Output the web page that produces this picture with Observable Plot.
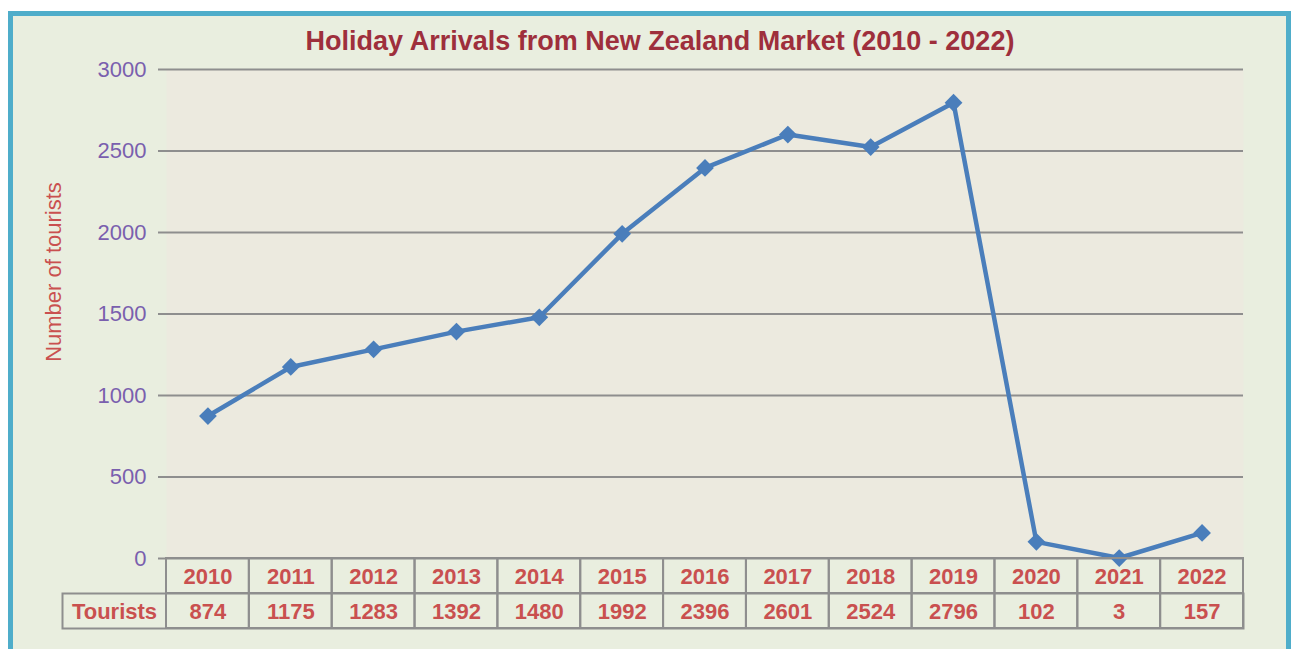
<!DOCTYPE html>
<html>
<head>
<meta charset="utf-8">
<script src="https://cdn.jsdelivr.net/npm/d3@7"></script>
<script src="https://cdn.jsdelivr.net/npm/@observablehq/plot@0.6"></script>
<style>
  html, body { margin: 0; padding: 0; background: #ffffff; }
  #stage { position: relative; width: 1291px; height: 649px; overflow: hidden; font-family: "Liberation Sans", Arial, sans-serif; }
  #panel { position: absolute; left: 8px; top: 11px; width: 1283px; height: 660px; box-sizing: border-box;
           background: #e9eedf; border-left: 5px solid #4fadca; border-top: 5px solid #4fadca; border-right: 5px solid #4fadca; }
  #title { position: absolute; left: 0; top: 26px; width: 1320px; text-align: center; font-size: 27px; font-weight: bold; color: #9e2f3c; }
  #ylab { position: absolute; left: 54px; top: 272px; transform: translate(-50%, -50%) rotate(-90deg); white-space: nowrap; font-size: 22px; color: #c9504f; }
  #chart, #table { position: absolute; left: 0; }
  #chart { top: 0; }
  #table { top: 556px; }
  svg { overflow: visible; background: transparent !important; }
</style>
</head>
<body>
<div id="stage">
  <div id="panel"></div>
  <div id="title">Holiday Arrivals from New Zealand Market (2010 - 2022)</div>
  <div id="ylab">Number of tourists</div>
  <div id="chart"></div>
  <div id="table"></div>
</div>
<script>
const years = [2010, 2011, 2012, 2013, 2014, 2015, 2016, 2017, 2018, 2019, 2020, 2021, 2022];
const tourists = [874, 1175, 1283, 1392, 1480, 1992, 2396, 2601, 2524, 2796, 102, 3, 157];
const yTicks = [0, 500, 1000, 1500, 2000, 2500, 3000];
const rowHeader = "Tourists";

const data = years.map((y, i) => ({year: y, value: tourists[i]}));

const W = 1291, ML = 166, MR = 48;
const lineColor = "#4a7ebb";
const gridColor = "#8e8e8e";
const red = "#c9504f";
const font = "Liberation Sans, Arial, sans-serif";

const chart = Plot.plot({
  width: W,
  height: 568,
  marginLeft: ML,
  marginRight: MR,
  marginTop: 69,
  marginBottom: 10,
  style: {background: "transparent", overflow: "visible"},
  x: {type: "band", domain: years, padding: 0, round: false, axis: null},
  y: {domain: [0, 3000], axis: null},
  marks: [
    Plot.frame({fill: "#eceadf", stroke: null}),
    Plot.ruleY(yTicks, {stroke: gridColor, strokeWidth: 2}),
    Plot.axisY(yTicks, {tickSize: 8, stroke: gridColor, strokeWidth: 2, tickPadding: 12, label: null,
      tickFormat: d => String(d), fontSize: 22, fill: "#7a5fae", fontFamily: font}),
    Plot.ruleX([0], {frameAnchor: "left", stroke: gridColor, strokeWidth: 2}),
    Plot.line(data, {x: "year", y: "value", stroke: lineColor, strokeWidth: 4.5, strokeLinejoin: "round"}),
    Plot.dot(data, {x: "year", y: "value", symbol: "diamond2", r: 8, fill: lineColor, stroke: null})
  ]
});
document.getElementById("chart").appendChild(chart);

const rows = ["Year", rowHeader];
const cells = [];
data.forEach(d => {
  cells.push({year: d.year, row: "Year", label: String(d.year)});
  cells.push({year: d.year, row: rowHeader, label: String(d.value)});
});

const table = Plot.plot({
  width: W,
  height: 74,
  marginLeft: ML,
  marginRight: MR,
  marginTop: 2,
  marginBottom: 2,
  style: {background: "transparent", overflow: "visible"},
  x: {type: "band", domain: years, padding: 0, round: false, axis: null},
  y: {type: "band", domain: rows, padding: 0, round: false, axis: null},
  marks: [
    Plot.frame({insetLeft: -104, insetTop: 35, stroke: gridColor, strokeWidth: 2}),
    Plot.cell(cells, {x: "year", y: "row", fill: "none", stroke: gridColor, strokeWidth: 2}),
    Plot.text(cells, {x: "year", y: "row", text: "label", fill: red, fontSize: 22, fontWeight: "bold",
      fontFamily: font, dy: 1}),
    Plot.text([rowHeader], {frameAnchor: "left", y: d => d, text: d => d, dx: -52, textAnchor: "middle",
      fill: red, fontSize: 22, fontWeight: "bold", fontFamily: font, dy: 1})
  ]
});
document.getElementById("table").appendChild(table);
</script>
</body>
</html>
